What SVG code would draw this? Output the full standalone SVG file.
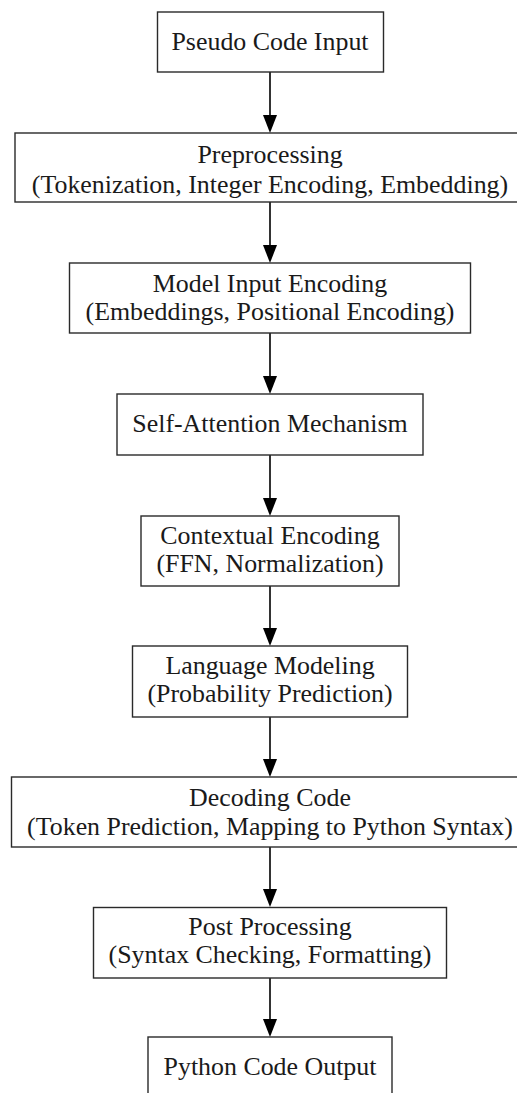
<svg xmlns="http://www.w3.org/2000/svg" width="517" height="1093" viewBox="0 0 517 1093">
<style>
.box{fill:#ffffff;stroke:#2a2a2a;stroke-width:1.4}
.lbl{font-family:"Liberation Serif","Times New Roman",serif;font-size:25.9px;fill:#1a1a1a;text-anchor:middle}
.edge{stroke:#000;stroke-width:1.6;fill:none}
</style>
<defs>
<marker id="ah" viewBox="0 0 18 14" refX="0" refY="7" markerWidth="18" markerHeight="14" markerUnits="userSpaceOnUse" orient="auto">
<path d="M0,0 L18,7 L0,14 z" fill="#000"/>
</marker>
</defs>
<rect width="517" height="1093" fill="#ffffff"/>
<g id="connectors">
<path class="edge" d="M270,72 V115" marker-end="url(#ah)"/>
<path class="edge" d="M270,202 V245" marker-end="url(#ah)"/>
<path class="edge" d="M270,333 V376" marker-end="url(#ah)"/>
<path class="edge" d="M270,455 V498" marker-end="url(#ah)"/>
<path class="edge" d="M270,586 V628" marker-end="url(#ah)"/>
<path class="edge" d="M270,717 V759" marker-end="url(#ah)"/>
<path class="edge" d="M270,847 V889" marker-end="url(#ah)"/>
<path class="edge" d="M270,978 V1019" marker-end="url(#ah)"/>
</g>
<g id="n1">
<rect class="box" x="157.5" y="12" width="226" height="60"/>
<text class="lbl" x="270" y="50">Pseudo Code Input</text>
</g>
<g id="n2">
<rect class="box" x="15" y="133" width="510" height="69"/>
<text class="lbl" x="270" y="163">Preprocessing</text>
<text class="lbl" x="270" y="193">(Tokenization, Integer Encoding, Embedding)</text>
</g>
<g id="n3">
<rect class="box" x="69.5" y="263" width="401" height="70"/>
<text class="lbl" x="270" y="292">Model Input Encoding</text>
<text class="lbl" x="270" y="320">(Embeddings, Positional Encoding)</text>
</g>
<g id="n4">
<rect class="box" x="117" y="394" width="306" height="61"/>
<text class="lbl" x="270" y="432">Self-Attention Mechanism</text>
</g>
<g id="n5">
<rect class="box" x="141" y="516" width="258" height="70"/>
<text class="lbl" x="270" y="544">Contextual Encoding</text>
<text class="lbl" x="270" y="572">(FFN, Normalization)</text>
</g>
<g id="n6">
<rect class="box" x="132.5" y="646" width="275" height="71"/>
<text class="lbl" x="270" y="674">Language Modeling</text>
<text class="lbl" x="270" y="702">(Probability Prediction)</text>
</g>
<g id="n7">
<rect class="box" x="11.5" y="777" width="517" height="70"/>
<text class="lbl" x="270" y="806">Decoding Code</text>
<text class="lbl" x="270" y="835">(Token Prediction, Mapping to Python Syntax)</text>
</g>
<g id="n8">
<rect class="box" x="93.5" y="907.5" width="353" height="70.5"/>
<text class="lbl" x="270" y="935">Post Processing</text>
<text class="lbl" x="270" y="963">(Syntax Checking, Formatting)</text>
</g>
<g id="n9">
<rect class="box" x="148" y="1037" width="244" height="60"/>
<text class="lbl" x="270" y="1075">Python Code Output</text>
</g>
</svg>
